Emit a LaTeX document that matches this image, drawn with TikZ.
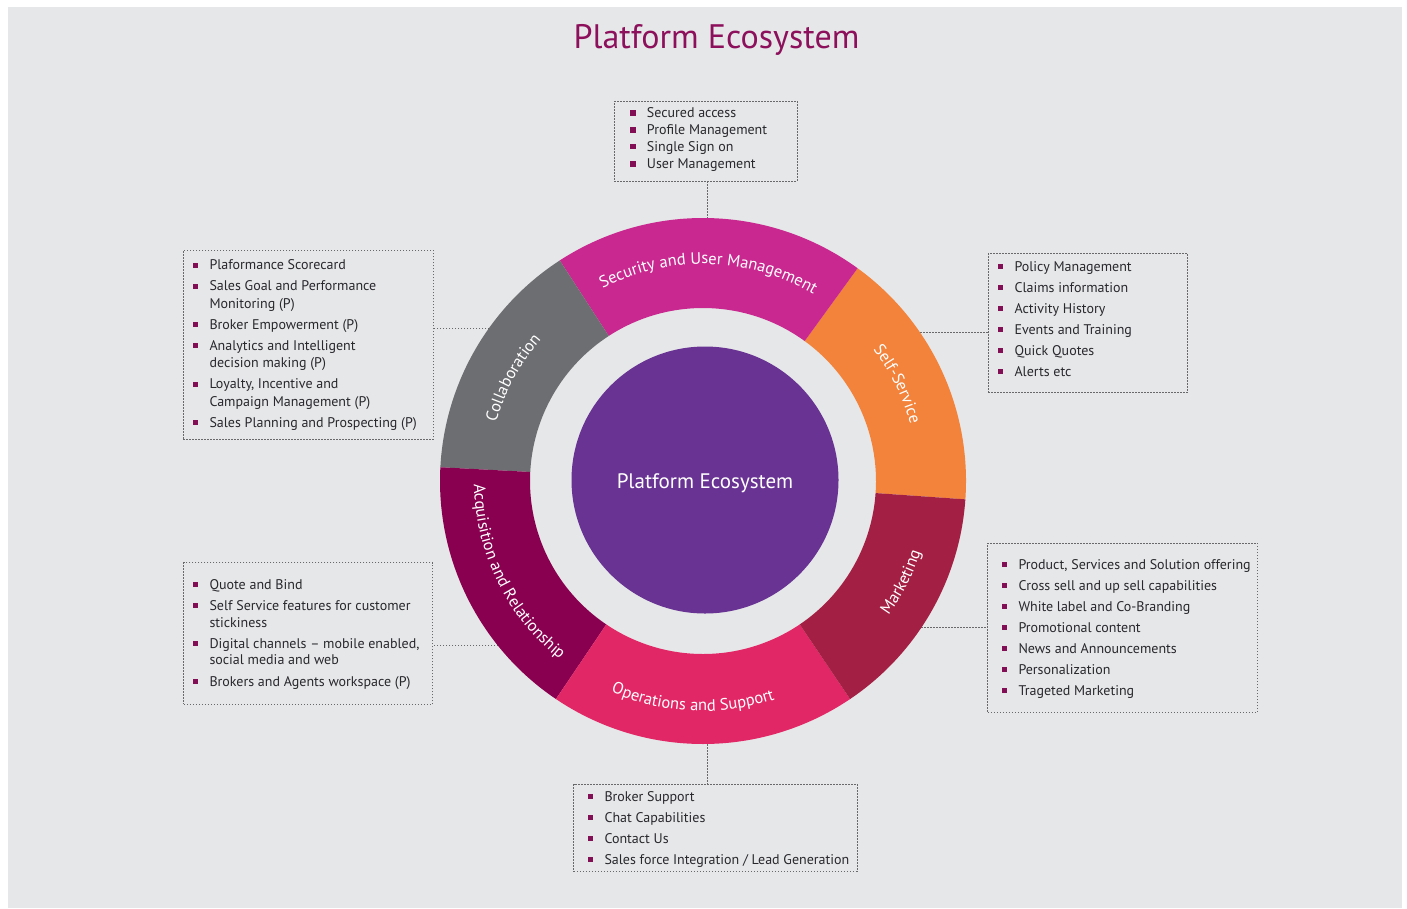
\documentclass[tikz,border=0pt]{standalone}
\usepackage{fontspec}
\setmainfont{PT Sans}
\usetikzlibrary{decorations.text}

\definecolor{pagebg}{RGB}{230,231,232}
\definecolor{secC}{RGB}{200,40,143}
\definecolor{selfC}{RGB}{243,130,58}
\definecolor{mktC}{RGB}{163,31,67}
\definecolor{opsC}{RGB}{226,39,102}
\definecolor{acqC}{RGB}{138,0,80}
\definecolor{colC}{RGB}{109,110,113}
\definecolor{coreC}{RGB}{104,51,147}
\definecolor{titleC}{RGB}{140,16,92}
\definecolor{bulC}{RGB}{130,14,86}
\definecolor{listC}{RGB}{40,40,45}
\definecolor{dotC}{RGB}{105,105,108}

\newcommand{\ringfont}{\fontsize{16.5}{16.5}\selectfont}

% one coloured sector of the ring, from angle #1 to angle #2
\newcommand{\ringseg}[3]{%
  \fill[#3] ([shift={(#1:263)}]O) arc[start angle=#1,end angle=#2,radius=263]
    -- ([shift={(#2:173)}]O) arc[start angle=#2,end angle=#1,radius=173] -- cycle;}

% white label set along an arc of radius #3 from angle #1 to angle #2
\newcommand{\ringlabel}[4]{%
  \path[decorate,decoration={text along path,text align=center,text color=white,
    text={|\ringfont|#4}}] ([shift={(#1:#3)}]O) arc[start angle=#1,end angle=#2,radius=#3];}

% bulleted line: name, baseline start of text, text
\newcommand{\bitem}[3]{%
  \node[itemtxt] (#1) at (#2) {#3};
  \fill[bulC] ([xshift=-16.3pt,yshift=1.8pt]#1.base west) rectangle ++(5.2,5.2);}
% continuation line of a bulleted item
\newcommand{\citem}[3]{\node[itemtxt] (#1) at (#2) {#3};}

\begin{document}
\begin{tikzpicture}[x=1pt,y=1pt,
  itemtxt/.style={anchor=base west,inner sep=0,text=listC,font=\fontsize{14}{14}\selectfont},
  listbox/.style={draw=dotC,line width=0.9pt,dash pattern=on 1.5pt off 1.5pt,
    anchor=north west,inner sep=0,minimum width=#1},
  connector/.style={draw=dotC,line width=0.9pt,dash pattern=on 1.5pt off 1.5pt}]

\useasboundingbox (0,0) rectangle (1407,-908);
\fill[white] (0,0) rectangle (1407,-908);
\fill[pagebg] (8,-7) rectangle (1402,-908);

% title
\node[anchor=base,inner sep=0,text=titleC,font=\fontsize{34}{34}\selectfont] (title) at (716.5,-48) {Platform Ecosystem};

\coordinate (O) at (703,-481);

% ring edge points where the connectors meet the ring
\coordinate (csec)  at (707,-218.5);
\coordinate (cops)  at (707,-744);
\coordinate (ccol)  at (489,-328.3);
\coordinate (cself) at (920,-332.3);
\coordinate (cacq)  at (498,-645.7);
\coordinate (cmkt)  at (921,-627);

% dotted boxes
\node[listbox=182.7,minimum height=79.7]  (bsec)  at (614,-101) {};
\node[listbox=250,minimum height=189]     (bcol)  at (182.7,-250) {};
\node[listbox=199.6,minimum height=138.4] (bself) at (987.7,-253.3) {};
\node[listbox=249,minimum height=141.7]   (bacq)  at (183.3,-562.3) {};
\node[listbox=270,minimum height=169]     (bmkt)  at (987.3,-542.7) {};
\node[listbox=283.4,minimum height=87.3]  (bops)  at (573.3,-783.7) {};

% connectors
\draw[connector] (csec) -- (csec |- bsec.south);
\draw[connector] (cops) -- (cops |- bops.north);
\draw[connector] (ccol) -- (ccol -| bcol.east);
\draw[connector] (cself) -- (cself -| bself.west);
\draw[connector] (cacq) -- (cacq -| bacq.east);
\draw[connector] (cmkt) -- (cmkt -| bmkt.west);

% ring
\ringseg{-4}{54}{selfC}
\ringseg{54}{123}{secC}
\ringseg{123}{177}{colC}
\ringseg{177}{236}{acqC}
\ringseg{236}{304}{opsC}
\ringseg{304}{356}{mktC}

\ringlabel{122}{55}{217}{Security and User Management}
\ringlabel{177}{126}{215}{Collaboration}
\ringlabel{52}{1}{215}{Self-Service}
\ringlabel{178}{234}{229}{Acquisition and Relationship}
\ringlabel{238}{296.6}{230}{Operations and Support}
\ringlabel{-52}{-2}{229}{Marketing}

% core
\node[circle,fill=coreC,minimum size=267,inner sep=0] (core) at (705,-480) {};
\node[anchor=base,inner sep=0,text=white,font=\fontsize{21}{21}\selectfont] (corelabel) at (705,-488.3) {Platform Ecosystem};

% Security and User Management
\bitem{s1}{646.7,-117.3}{Secured access}
\bitem{s2}{646.7,-134.3}{Profile Management}
\bitem{s3}{646.7,-151}{Single Sign on}
\bitem{s4}{646.7,-168.3}{User Management}

% Collaboration
\bitem{c1}{209.3,-269.5}{Plaformance Scorecard}
\bitem{c2}{209.3,-290.5}{Sales Goal and Performance}
\citem{c2b}{209.3,-308}{Monitoring (P)}
\bitem{c3}{209.3,-329}{Broker Empowerment (P)}
\bitem{c4}{209.3,-350}{Analytics and Intelligent}
\citem{c4b}{209.3,-367.5}{decision making (P)}
\bitem{c5}{209.3,-388.5}{Loyalty, Incentive and}
\citem{c5b}{209.3,-406}{Campaign Management (P)}
\bitem{c6}{209.3,-427}{Sales Planning and Prospecting (P)}

% Self-Service
\bitem{f1}{1014.3,-271}{Policy Management}
\bitem{f2}{1014.3,-292}{Claims information}
\bitem{f3}{1014.3,-313}{Activity History}
\bitem{f4}{1014.3,-334}{Events and Training}
\bitem{f5}{1014.3,-355}{Quick Quotes}
\bitem{f6}{1014.3,-376}{Alerts etc}

% Acquisition and Relationship
\bitem{a1}{209.3,-589}{Quote and Bind}
\bitem{a2}{209.3,-610}{Self Service features for customer}
\citem{a2b}{209.3,-627}{stickiness}
\bitem{a3}{209.3,-648}{Digital channels – mobile enabled,}
\citem{a3b}{209.3,-664.5}{social media and web}
\bitem{a4}{209.3,-686}{Brokers and Agents workspace (P)}

% Marketing
\bitem{m1}{1018.3,-569}{Product, Services and Solution offering}
\bitem{m2}{1018.3,-590}{Cross sell and up sell capabilities}
\bitem{m3}{1018.3,-611}{White label and Co-Branding}
\bitem{m4}{1018.3,-632}{Promotional content}
\bitem{m5}{1018.3,-653}{News and Announcements}
\bitem{m6}{1018.3,-674}{Personalization}
\bitem{m7}{1018.3,-695}{Trageted Marketing}

% Operations and Support
\bitem{o1}{604.3,-801}{Broker Support}
\bitem{o2}{604.3,-822}{Chat Capabilities}
\bitem{o3}{604.3,-843}{Contact Us}
\bitem{o4}{604.3,-864}{Sales force Integration / Lead Generation}

\end{tikzpicture}
\end{document}
